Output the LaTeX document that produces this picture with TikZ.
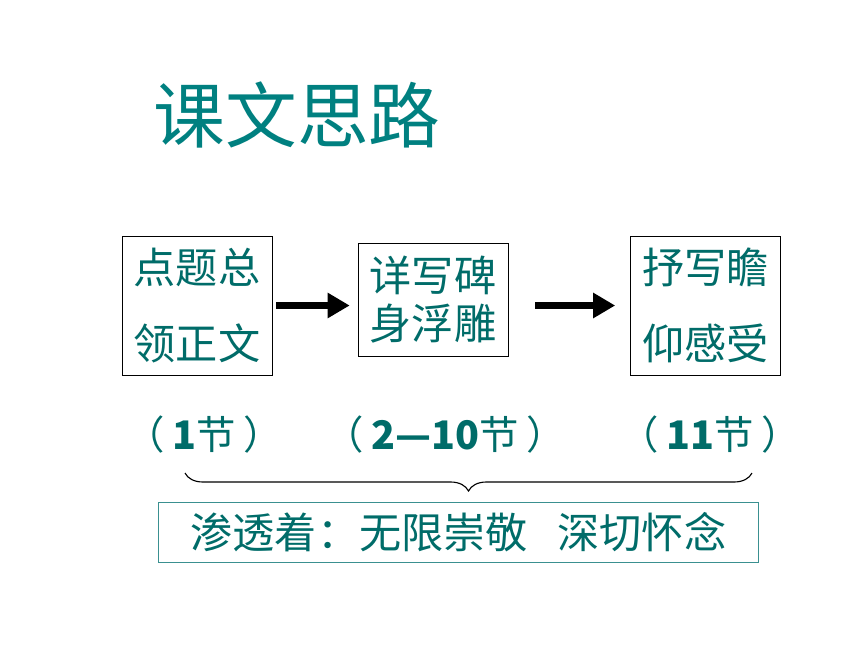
\documentclass[tikz,border=0pt]{standalone}
\usepackage{fontspec}
\setmainfont{Noto Sans CJK SC}
\usepackage{tikz}
\usetikzlibrary{positioning,arrows.meta,calc,decorations.pathreplacing}
\definecolor{titleteal}{HTML}{008080}
\definecolor{textteal}{HTML}{006C69}
\definecolor{lineteal}{HTML}{3A9090}
\newcommand{\pgap}{\hspace{0.2em}}
\tikzset{
  flowarrow/.style={-{Triangle[length=5.5mm, width=6mm]}, line width=5pt, black},
  stagebox/.style={draw, thin, fill=white, text=textteal, align=center,
    minimum width=3.75cm, font=\fontsize{30}{54}\selectfont},
  partlabel/.style={text=textteal, font=\fontsize{28}{30}\selectfont},
  summarybox/.style={draw=lineteal, thin, text=textteal, minimum width=15.0cm,
    minimum height=1.5cm, font=\fontsize{30}{34}\selectfont}
}

\begin{document}
\begin{tikzpicture}[x=0.025cm, y=-0.025cm]
  \useasboundingbox (0,0) rectangle (860,645);
  % title
  \node[text=titleteal, font=\fontsize{51}{56}\selectfont] (title) at (297,115) {课文思路};
  % three stages
  \node[stagebox, minimum height=3.475cm] (intro) at (197,305.5) {点题总\\领正文};
  \node[stagebox, minimum height=2.825cm, font=\fontsize{30}{34}\selectfont] (body) at (433,299.5) {详写碑\\身浮雕};
  \node[stagebox, minimum height=3.475cm] (ending) at (705.5,305.5) {抒写瞻\\仰感受};
  \draw[flowarrow, shorten <=0.1cm, shorten >=0.2cm] (intro.east) -- (intro.east -| body.west);
  \draw[flowarrow, shorten <=0.675cm, shorten >=0.375cm] (ending.west -| body.east) -- (ending.west);
  % sections
  \node[partlabel] (p1) at (204,435) {（\pgap\textbf{1}节\pgap）};
  \node[partlabel] (p2) at (445,435) {（\pgap\textbf{2—10}节\pgap）};
  \node[partlabel] (p3) at (710,435) {（\pgap\textbf{11}节\pgap）};
  % brace and summary
  \coordinate (brl) at (185,473);
  \coordinate (brr) at (752,473);
  \draw[thick, decorate, decoration={brace, mirror, amplitude=0.45cm}] (brl) -- (brr);
  \node[summarybox] (sum) at (458.5,532) {渗透着：无限崇敬\hspace{0.7em}深切怀念};
\end{tikzpicture}
\end{document}
